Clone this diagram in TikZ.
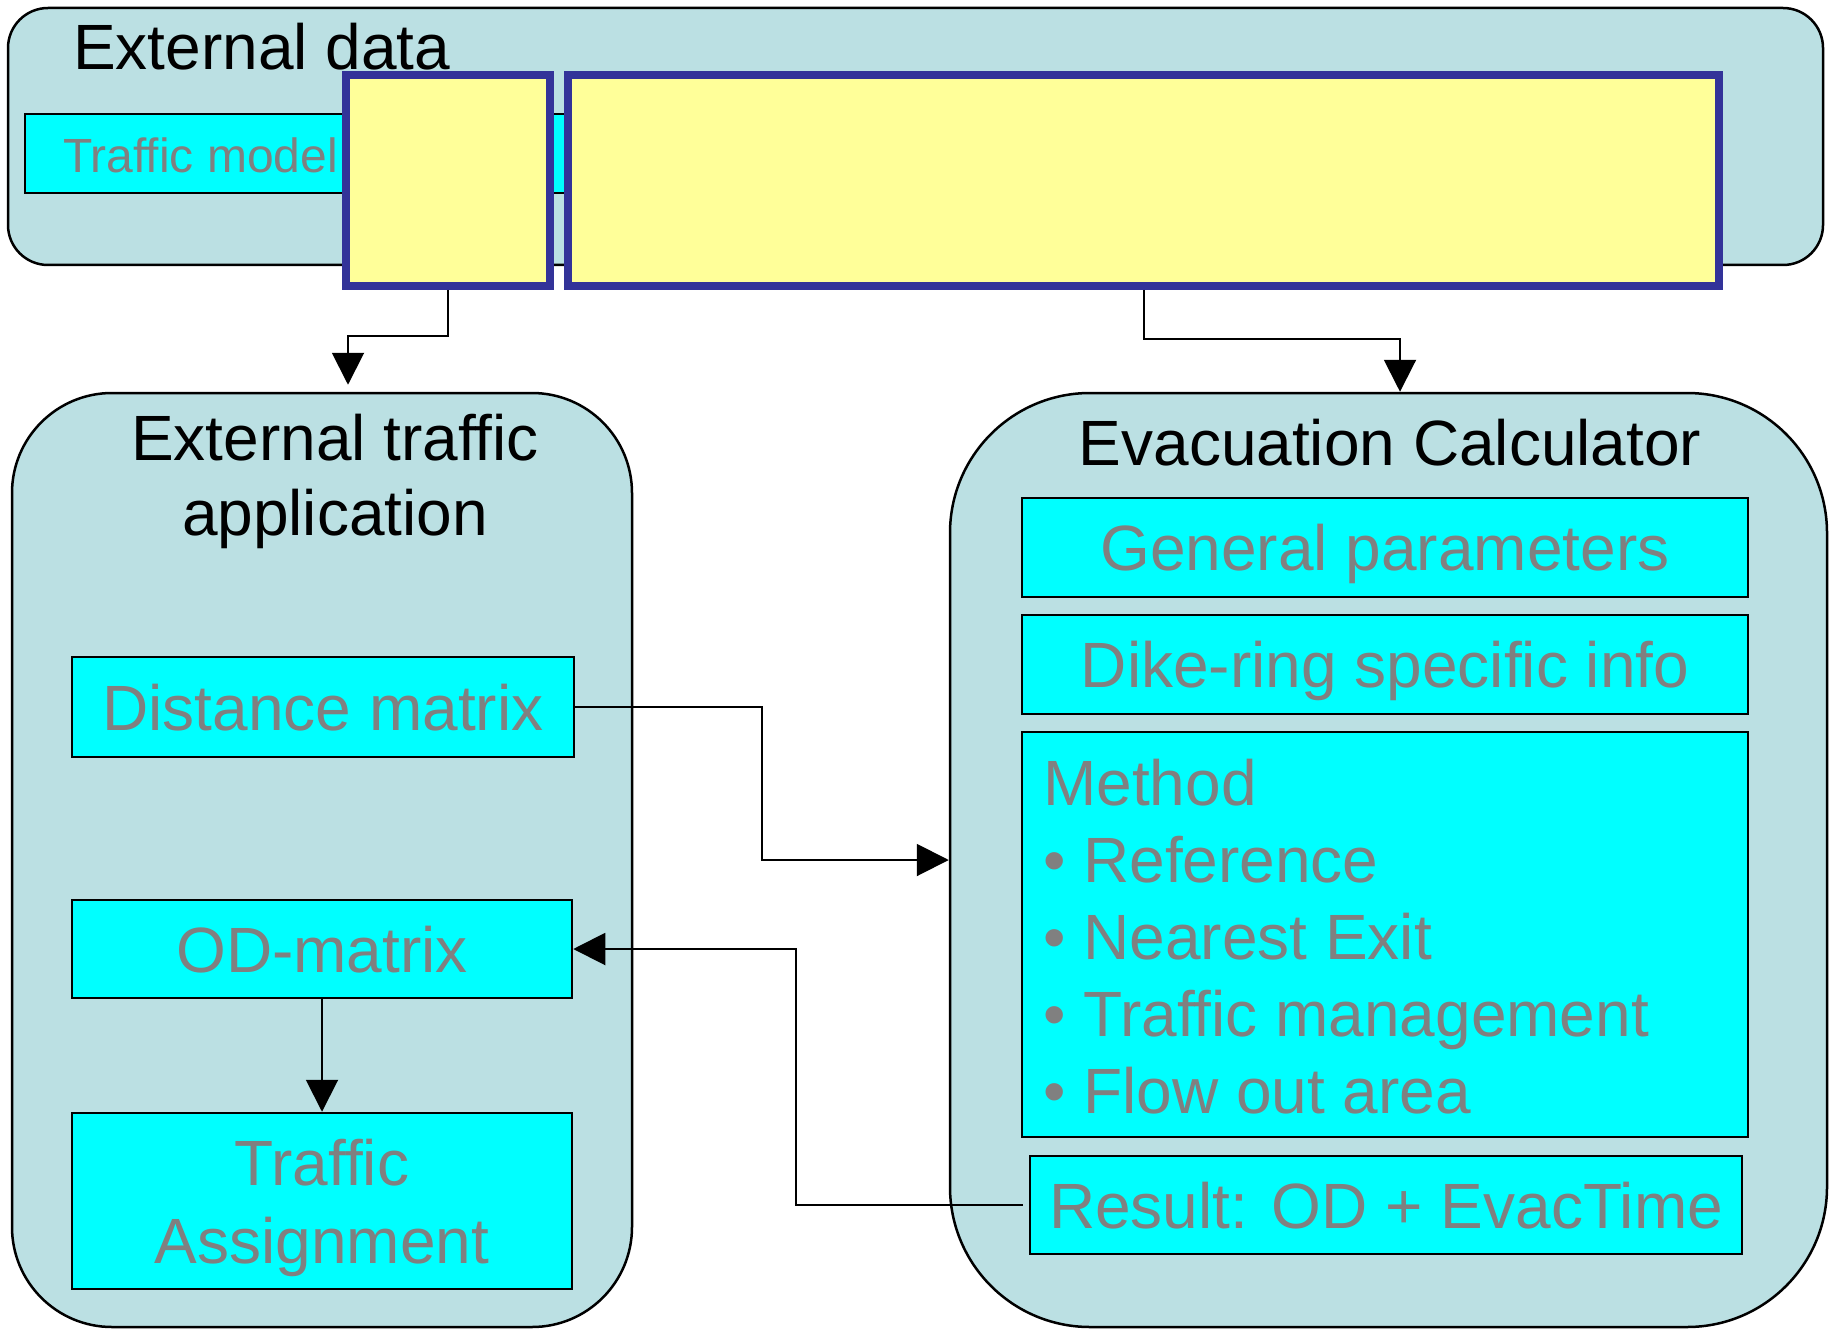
\documentclass[tikz,border=0pt]{standalone}
\usepackage{fontspec}
\setmainfont{Liberation Sans}
\usepackage{xcolor}
\usepackage{tikz}
\usetikzlibrary{
  positioning,
  arrows.meta,
  calc
}
\definecolor{panelblue}{HTML}{BBE0E3}
\definecolor{boxcyan}{HTML}{00FFFF}
\definecolor{labelgray}{HTML}{808080}
\definecolor{noteyellow}{HTML}{FFFF99}
\definecolor{notenavy}{HTML}{333399}
\tikzset{
  >=Latex,
  flowarrow/.style={-{Triangle[length=32pt,width=32pt]},line width=2pt},
  panel/.style={rectangle,draw,line width=2.5pt,fill=panelblue,rounded corners=#1,anchor=north west,inner sep=0pt},
  module/.style={rectangle,draw,line width=2.5pt,fill=boxcyan,text=labelgray,anchor=north west,inner sep=0pt,align=center,font=\fontsize{64}{78}\selectfont},
  oneline/.style={text height=46pt,text depth=0pt},
  note/.style={rectangle,draw=notenavy,line width=8pt,fill=noteyellow,anchor=north west,inner sep=0pt},
  heading/.style={inner sep=0pt,align=center,font=\fontsize{64}{75}\selectfont}
}
\begin{document}
\begin{tikzpicture}[x=1pt,y=-1pt]
    \useasboundingbox (0,0) rectangle (1835,1329);

    % external data strip
    \node[panel=40pt,minimum width=1815pt,minimum height=257pt] (extdata) at (6.75,6.75) {};
    \node[heading,anchor=base west] (extdatatitle) at (73,70) {External data};
    \node[rectangle,draw,line width=2.5pt,fill=boxcyan,anchor=north west,inner sep=0pt,minimum width=675pt,minimum height=79pt] (trafmodel) at (23.75,112.75) {};
    \node[anchor=base west,inner sep=0pt,text=labelgray,font=\fontsize{48}{58}\selectfont] (trafmodeltxt) at (63,173) {Traffic model};
    \node[note,minimum width=204pt,minimum height=211pt] (yelA) at (342,71) {};
    \node[note,minimum width=1151pt,minimum height=211pt] (yelB) at (564,71) {};

    % the two applications
    \node[panel=100pt,minimum width=620pt,minimum height=934pt] (extapp) at (10.75,391.75) {};
    \node[panel=140pt,minimum width=877pt,minimum height=934pt] (evaccalc) at (948.75,391.75) {};
    \node[heading,anchor=base] (extapptitle) at (335,535) {External traffic\\application};
    \node[heading,anchor=base] (evactitle) at (1390,465) {Evacuation Calculator};

    \node[module,oneline,minimum width=502pt,minimum height=100pt] (distmat) at (70.75,655.75) {Distance matrix};
    \node[module,oneline,minimum width=500pt,minimum height=98pt] (odmat) at (70.75,898.75) {OD-matrix};
    \node[module,text depth=0pt,minimum width=500pt,minimum height=176pt] (trafass) at (70.75,1111.75) {Traffic\\Assignment};

    \node[module,oneline,minimum width=726pt,minimum height=99pt] (gparam) at (1020.75,496.75) {General parameters};
    \node[module,oneline,minimum width=726pt,minimum height=99pt] (dikering) at (1020.75,613.75) {Dike-ring specific info};
    \node[module,minimum width=726pt,minimum height=405pt] (method) at (1020.75,730.75) {};
    \foreach \i/\txt in {0/Method,1/• Reference,2/• Nearest Exit,3/• Traffic management,4/• Flow out area}
        \node[anchor=base west,inner sep=0pt,text=labelgray,font=\fontsize{64}{78}\selectfont] (meth\i) at (1043,805+77*\i) {\txt};
    \node[module,oneline,minimum width=712pt,minimum height=98pt] (result) at (1028.75,1154.75) {Result: OD + EvacTime};

    % connectors
    \draw[flowarrow,shorten >=7pt] (yelA.south) -- ++(0,46) -| ([xshift=26pt]extapp.north);
    \draw[flowarrow] (yelB.south) -- ++(0,49) -| ([xshift=11.5pt]evaccalc.north);
    \draw[flowarrow] (distmat.east) -- ++(187,0) |- (evaccalc.west);
    \draw[flowarrow,shorten <=6pt] (result.west) -- ++(-233,0) |- (odmat.east);
    \draw[flowarrow] (odmat.south) -- (trafass.north);
\end{tikzpicture}
\end{document}
